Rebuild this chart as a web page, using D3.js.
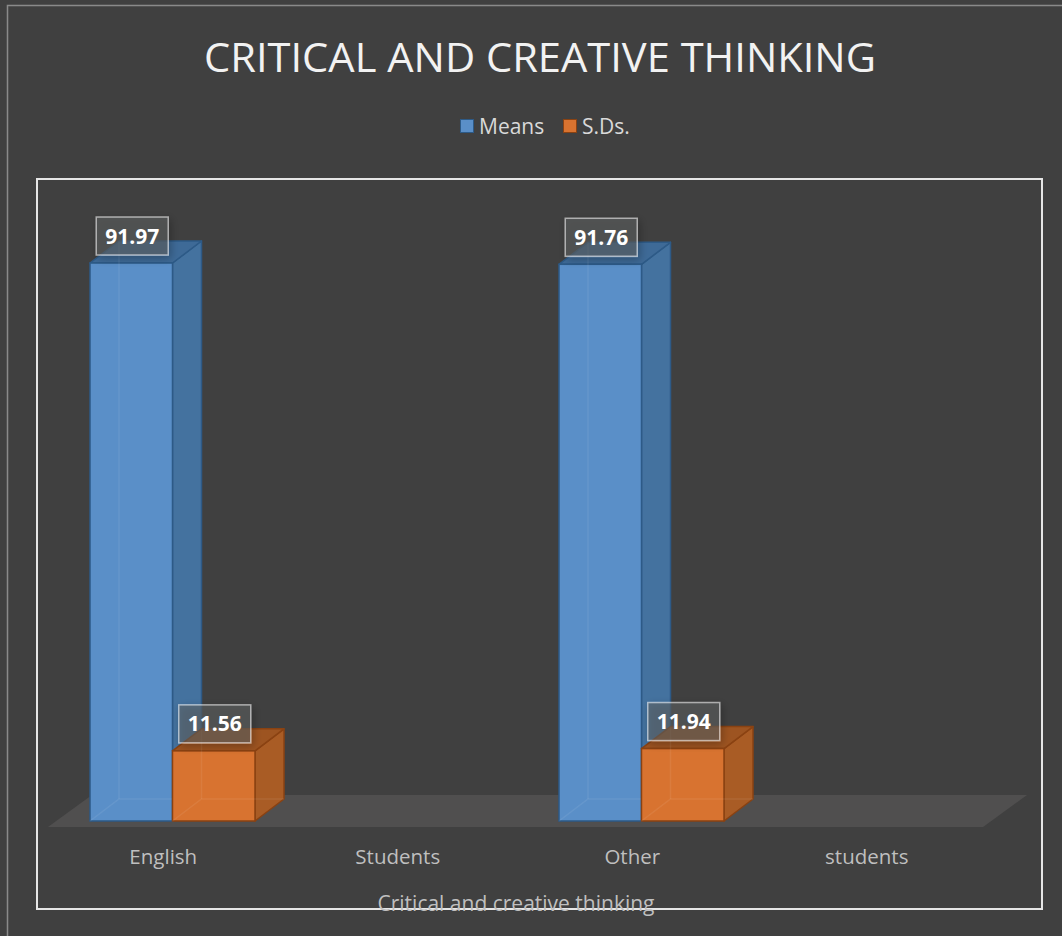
<!DOCTYPE html>
<html>
<head>
<meta charset="utf-8">
<script src="https://cdn.jsdelivr.net/npm/d3@7"></script>
<style>
  html, body { margin: 0; padding: 0; background: #404040; }
  svg { display: block; }
</style>
</head>
<body>
<svg id="chart" width="1062" height="936"></svg>
<script>
// ---- data ----
const title = "CRITICAL AND CREATIVE THINKING";
const tickLabels = ["English", "Students", "Other", "students"];
const seriesNames = ["Means", "S.Ds."];
const means = [91.97, null, 91.76, null];
const sds = [11.56, null, 11.94, null];
const axisTitle = "Critical and creative  thinking";

// ---- layout ----
const W = 1062, H = 936;
const svg = d3.select("#chart");
const colors = {
  Means: { front: "#5A8FC8", side: "#44729F", top: "#3E6A97", stroke: "#2D5A87" },
  "S.Ds.": { front: "#D87330", side: "#A95C25", top: "#9D5421", stroke: "#8A4212" }
};
const dx = 29, dy = -22;

svg.append("rect").attr("x", 0).attr("y", 0).attr("width", W).attr("height", H).attr("fill", "#404040");
svg.append("rect").attr("x", 7.5).attr("y", 5.5).attr("width", W + 10).attr("height", H + 10)
  .attr("fill", "none").attr("stroke", "#8a8a8a").attr("stroke-width", 1.5);

const x = d3.scaleBand().domain(tickLabels).range([46, 984]).padding(0);
const y = d3.scaleLinear().domain([0, 100]).range([821, 214.3]);

// Title
svg.append("text").attr("x", 540).attr("y", 72).attr("text-anchor", "middle")
  .attr("font-family", "Open Sans").attr("font-size", 40).attr("fill", "#F2F2F2")
  .attr("textLength", 672).attr("lengthAdjust", "spacingAndGlyphs")
  .text(title);

// Legend
const legend = svg.append("g");
const legItems = [{ name: "Means", x: 460 }, { name: "S.Ds.", x: 563 }];
legItems.forEach(it => {
  legend.append("rect").attr("x", it.x + 0.5).attr("y", 119.5).attr("width", 13).attr("height", 13)
    .attr("fill", colors[it.name].front).attr("stroke", colors[it.name].stroke).attr("stroke-width", 1);
  legend.append("text").attr("x", it.x + 19).attr("y", 134)
    .attr("font-family", "Open Sans").attr("font-size", 21).attr("fill", "#D9D9D9").text(it.name);
});

// Plot area border
svg.append("rect").attr("x", 37).attr("y", 179).attr("width", 1005).attr("height", 730)
  .attr("fill", "none").attr("stroke", "#E6E6E6").attr("stroke-width", 2);

// Floor
const fy = y(0) + 6;
const fx0 = x.range()[0] + 2, fx1 = x.range()[1] - 1;
svg.append("polygon")
  .attr("points", [[fx0, fy], [fx1, fy], [fx1 + 44, fy - 32], [fx0 + 44, fy - 32]].map(p => p.join(",")).join(" "))
  .attr("fill", "#504F4F");

// Bars
const barW = 82.5;
const defs = svg.append("defs");
const flt = defs.append("filter").attr("id", "shadow").attr("x", "-30%").attr("y", "-30%").attr("width", "160%").attr("height", "160%");
flt.append("feGaussianBlur").attr("in", "SourceAlpha").attr("stdDeviation", 4).attr("result", "b");
flt.append("feOffset").attr("dx", 2).attr("dy", 3).attr("result", "o");
flt.append("feComponentTransfer").append("feFuncA").attr("type", "linear").attr("slope", 0.45);
const fm = flt.append("feMerge");
fm.append("feMergeNode");
fm.append("feMergeNode").attr("in", "SourceGraphic");

function drawBar(g, x0, v, c) {
  const x1 = x0 + barW, yt = y(v), yb = y(0);
  g.append("polygon").attr("points", [[x1, yt], [x1 + dx, yt + dy], [x1 + dx, yb + dy], [x1, yb]].map(p => p.join(",")).join(" "))
    .attr("fill", c.side).attr("stroke", c.stroke).attr("stroke-width", 1.5).attr("stroke-linejoin", "round");
  g.append("polygon").attr("points", [[x0, yt], [x0 + dx, yt + dy], [x1 + dx, yt + dy], [x1, yt]].map(p => p.join(",")).join(" "))
    .attr("fill", c.top).attr("stroke", c.stroke).attr("stroke-width", 1.5).attr("stroke-linejoin", "round");
  g.append("rect").attr("x", x0).attr("y", yt).attr("width", barW).attr("height", yb - yt)
    .attr("fill", c.front).attr("stroke", c.stroke).attr("stroke-width", 1.5);
  // faint hidden edges (transparency effect)
  g.append("polyline").attr("points", [[x0, yb], [x0 + dx, yb + dy], [x1 + dx, yb + dy]].map(p => p.join(",")).join(" "))
    .attr("fill", "none").attr("stroke", "#ffffff").attr("stroke-opacity", 0.07).attr("stroke-width", 1.5);
  g.append("line").attr("x1", x0 + dx).attr("y1", yt + dy).attr("x2", x0 + dx).attr("y2", yb + dy)
    .attr("stroke", "#ffffff").attr("stroke-opacity", 0.07).attr("stroke-width", 1.5);
}

const barsG = svg.append("g");
tickLabels.forEach((cat, i) => {
  const bx = x(cat) + 44;
  if (means[i] != null) drawBar(barsG, bx, means[i], colors.Means);
  if (sds[i] != null) drawBar(barsG, bx + barW, sds[i], colors["S.Ds."]);
});

// Data labels
const labG = svg.append("g");
function drawLabel(cx, v) {
  const h = 38, w = 72;
  const yb = y(v) - 8;
  const g = labG.append("g");
  g.append("rect").attr("x", cx - w / 2).attr("y", yb - h).attr("width", w).attr("height", h)
    .attr("fill", "#5e6063").attr("fill-opacity", 0.55)
    .attr("stroke", "#ffffff").attr("stroke-opacity", 0.55).attr("stroke-width", 1.5)
    .attr("filter", "url(#shadow)");
  g.append("text").attr("x", cx).attr("y", yb - h / 2 + 7.5).attr("text-anchor", "middle")
    .attr("font-family", "Open Sans").attr("font-weight", "bold").attr("font-size", 21)
    .attr("fill", "#FFFFFF").text(v.toFixed(2));
}
tickLabels.forEach((cat, i) => {
  const bx = x(cat) + 44;
  if (means[i] != null) drawLabel(bx + barW / 2 + 1, means[i]);
  if (sds[i] != null) drawLabel(bx + barW + barW / 2 + 1, sds[i]);
});

// X axis labels
const xAxis = d3.axisBottom(x).tickSize(0).tickPadding(0);
const axG = svg.append("g").attr("transform", "translate(0,844)").call(xAxis);
axG.select(".domain").remove();
axG.selectAll("text").attr("font-family", "Open Sans").attr("font-size", 20.5).attr("fill", "#BFBFBF")
  .attr("dy", "0.71em").attr("y", 5);

// Axis title
svg.append("text").attr("x", 516).attr("y", 911).attr("text-anchor", "middle")
  .attr("font-family", "Open Sans").attr("font-size", 21).attr("fill", "#BFBFBF")
  .text(axisTitle);
</script>
</body>
</html>
